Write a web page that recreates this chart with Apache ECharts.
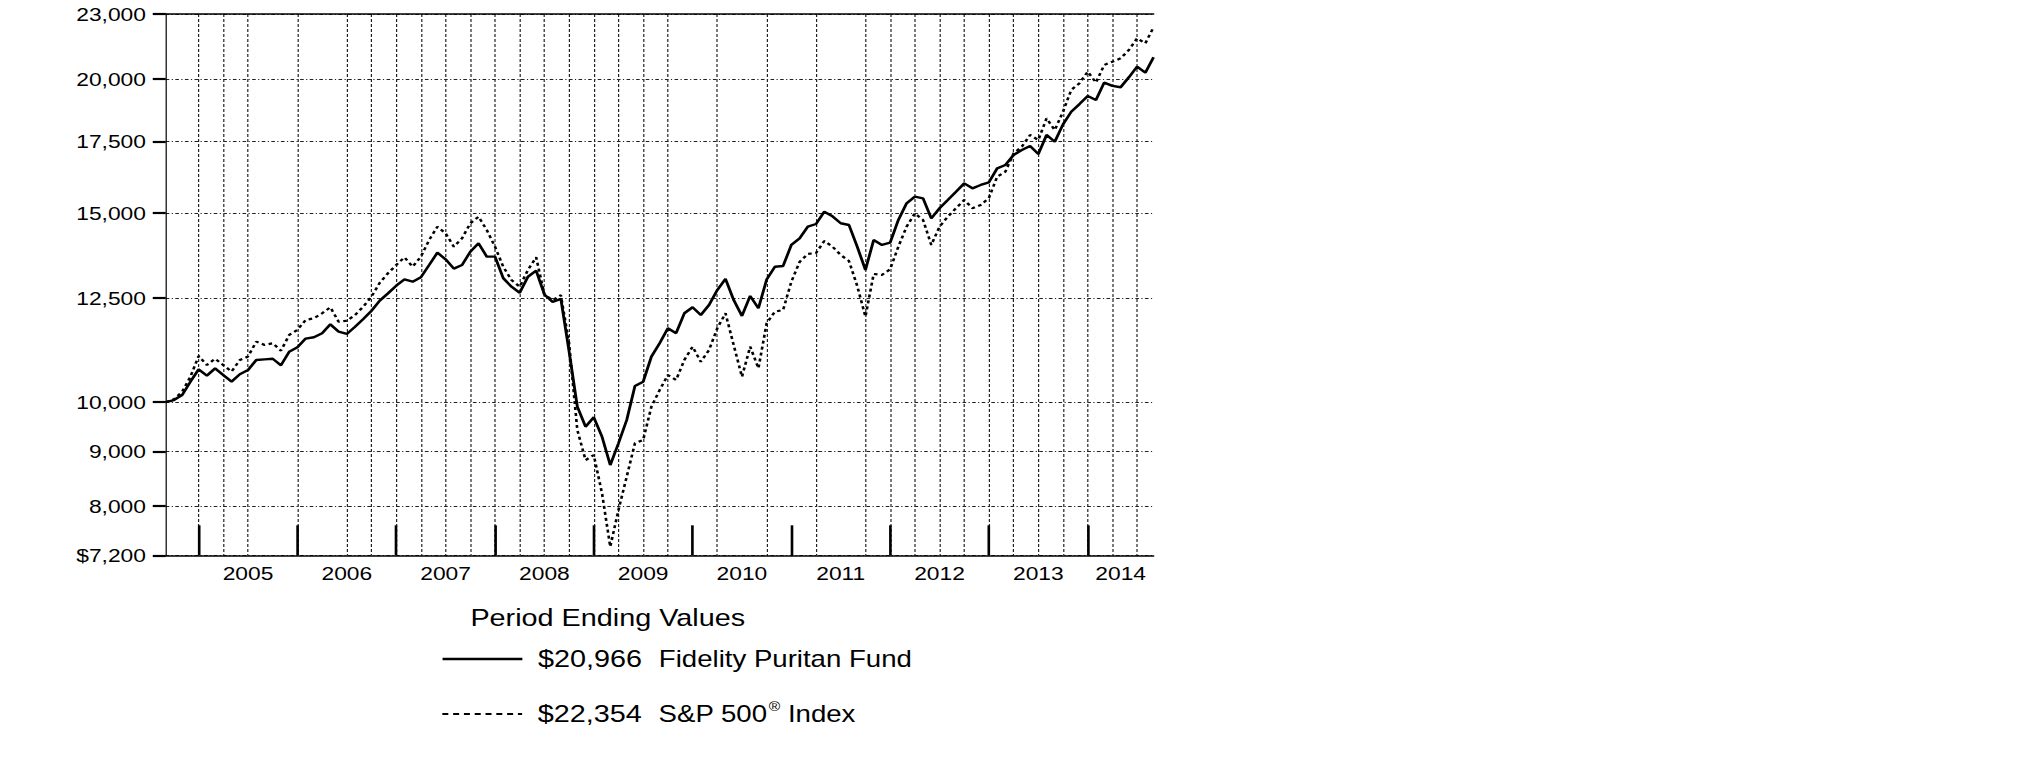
<!DOCTYPE html>
<html>
<head>
<meta charset="utf-8">
<script src="https://cdn.jsdelivr.net/npm/echarts@6/dist/echarts.min.js"></script>
<style>
  html, body { margin: 0; padding: 0; background: #ffffff; overflow: hidden; }
  #wrap { width: 2025px; height: 761px; overflow: hidden; }
  #chart { width: 1687.5px; height: 761px; transform: scaleX(1.2); transform-origin: 0 0; }
</style>
</head>
<body>
<div id="wrap"><div id="chart"></div></div>
<script>
// ---------------- data ----------------
const startYear = 2004;
const startMonth = 8;          // Aug 2004 = $10,000 start
const monthCount = 121;        // monthly month-end points through Aug 2014

const months = [];
for (let i = 0; i < monthCount; i++) {
  const m0 = startMonth - 1 + i;
  const y = startYear + Math.floor(m0 / 12);
  const m = (m0 % 12) + 1;
  months.push(y + '-' + (m < 10 ? '0' + m : '' + m));
}

const fundName = 'Fidelity Puritan Fund';
const indexName = 'S&P 500\u00AE Index';

const fundValues = [
  10000, 10046, 10155, 10450, 10730, 10585, 10752, 10600, 10450, 10617,
  10715, 10947, 10962, 10977, 10824, 11145, 11250, 11462, 11494, 11595,
  11818, 11635, 11576, 11758, 11955, 12169, 12435, 12631, 12840, 13018,
  12952, 13075, 13422, 13783, 13588, 13318, 13422, 13811, 14062, 13666,
  13666, 13050, 12813, 12647, 13089, 13260, 12600, 12400, 12480, 11150,
  9904, 9488, 9681, 9287, 8739, 9157, 9625, 10354, 10450, 11028,
  11349, 11718, 11595, 12102, 12259, 12058, 12318, 12720, 13030, 12450,
  12033, 12560, 12233, 13010, 13373, 13395, 14013, 14215, 14573, 14657,
  15050, 14900, 14680, 14626, 13961, 13281, 14163, 14013, 14081, 14785,
  15322, 15542, 15488, 14837, 15162, 15431, 15707, 15992, 15823, 15937,
  16029, 16516, 16634, 16994, 17179, 17326, 17029, 17742, 17486, 18150,
  18650, 18958, 19289, 19125, 19852, 19711, 19656, 20080, 20543, 20280,
  20966
];

const indexValues = [
  10000, 10062, 10228, 10561, 11041, 10830, 10977, 10829, 10680, 10947,
  11028, 11388, 11307, 11349, 11169, 11552, 11678, 11930, 11975, 12102,
  12259, 11885, 11910, 12058, 12275, 12543, 12920, 13187, 13422, 13646,
  13373, 13666, 14163, 14573, 14366, 13961, 14215, 14680, 14888, 14469,
  13961, 13373, 12997, 12813, 13281, 13646, 12600, 12450, 12580, 11350,
  9421, 8832, 8928, 8225, 7334, 7935, 8523, 9157, 9222, 9904,
  10264, 10600, 10488, 10947, 11265, 10907, 11185, 11718, 12102, 11300,
  10561, 11265, 10755, 11845, 12144, 12188, 12950, 13510, 13745, 13772,
  14133, 13961, 13713, 13538, 12834, 12016, 13166, 13139, 13300, 13961,
  14573, 14997, 14785, 14013, 14573, 14888, 15162, 15431, 15162, 15266,
  15500, 16222, 16398, 17057, 17302, 17742, 17551, 18384, 17930, 18651,
  19543, 19825, 20324, 19852, 20616, 20764, 20913, 21292, 21832, 21597,
  22354
];

const yTicks = [7200, 8000, 9000, 10000, 12500, 15000, 17500, 20000, 23000];

// quarter-end gridlines that the original leaves out
const hiddenGridMonths = ['2004-09', '2005-09', '2006-03', '2009-12', '2010-06', '2010-12', '2011-06'];

// ---------------- derived helpers ----------------
const fmt = v => Math.round(v).toLocaleString('en-US');

// year boundary ticks at each December month-end
const yearTickIdx = [];
months.forEach((m, i) => { if (m.slice(5) === '12') yearTickIdx.push(i); });
const yearTickSet = new Set(yearTickIdx);

// year label in the middle of each year segment
const labelIdxSet = new Set();
for (let t = 0; t < yearTickIdx.length; t++) {
  const a = yearTickIdx[t];
  const b = t + 1 < yearTickIdx.length ? yearTickIdx[t + 1] : monthCount - 1;
  labelIdxSet.add(Math.round((a + b) / 2));
}

const gridIdxSet = new Set();
months.forEach((m, i) => {
  const mm = parseInt(m.slice(5), 10);
  if (mm % 3 === 0 && hiddenGridMonths.indexOf(m) < 0) gridIdxSet.add(i);
});

const endValue = { [fundName]: fundValues[fundValues.length - 1], [indexName]: indexValues[indexValues.length - 1] };

const FONT = '"Liberation Sans", Arial, Helvetica, sans-serif';

const legendRich = {
  v: { fontSize: 24, fontFamily: FONT, color: '#000', padding: [0, 14, 0, 8], lineHeight: 28 },
  n: { fontSize: 23, fontFamily: FONT, color: '#000', lineHeight: 28 },
  sup: { fontSize: 13, fontFamily: FONT, color: '#000', lineHeight: 28, verticalAlign: 'top', padding: [0, 0, 10, 1] }
};

function legendFormatter(name) {
  const v = '{v|$' + fmt(endValue[name]) + '}';
  if (name === indexName) return v + '{n|S&P 500}{sup|\u00AE}{n| Index}';
  return v + '{n|' + name + '}';
}

// ---------------- chart ----------------
const chart = echarts.init(document.getElementById('chart'), null, { renderer: 'svg' });

const option = {
  animation: false,
  backgroundColor: '#ffffff',
  title: {
    text: 'Period Ending Values',
    left: 392,
    top: 606,
    padding: 0,
    textStyle: { fontSize: 24, fontWeight: 'normal', fontFamily: FONT, color: '#000' }
  },
  legend: [
    {
      data: [fundName],
      left: 367.5, top: 647, padding: 0,
      orient: 'vertical',
      itemWidth: 66.5, itemHeight: 28,
      selectedMode: false,
      formatter: legendFormatter,
      itemStyle: { opacity: 0 },
      lineStyle: { color: '#000', width: 2.6, type: 'solid' },
      textStyle: { rich: legendRich }
    },
    {
      data: [indexName],
      left: 367.5, top: 700, padding: 0,
      orient: 'vertical',
      itemWidth: 66.5, itemHeight: 28,
      selectedMode: false,
      formatter: legendFormatter,
      itemStyle: { opacity: 0 },
      lineStyle: { color: '#000', width: 2.2, type: [5, 4] },
      textStyle: { rich: legendRich }
    }
  ],
  grid: {
    left: 138.1,
    top: 14,
    width: 823.2,
    height: 541.3,
    containLabel: false,
    outerBoundsMode: 'none'
  },
  xAxis: [
    {
      type: 'category',
      data: months,
      boundaryGap: false,
      position: 'bottom',
      axisLine: { show: true, onZero: false, lineStyle: { color: '#000', width: 1.5 } },
      axisTick: {
        show: true, inside: true, length: 30,
        interval: (i) => yearTickSet.has(i),
        lineStyle: { color: '#000', width: 2.2 }
      },
      axisLabel: {
        show: true,
        interval: (i) => labelIdxSet.has(i),
        formatter: (v) => v.slice(0, 4),
        margin: 8,
        fontSize: 19, fontFamily: FONT, color: '#000'
      },
      splitLine: {
        show: true,
        interval: (i) => gridIdxSet.has(i),
        lineStyle: { color: '#222', width: 1, type: [3, 2] }
      }
    },
    {
      type: 'category',
      data: months,
      boundaryGap: false,
      position: 'top',
      axisLine: { show: true, onZero: false, lineStyle: { color: '#000', width: 1.5 } },
      axisTick: { show: false },
      axisLabel: { show: false },
      splitLine: { show: false }
    }
  ],
  yAxis: {
    type: 'log',
    logBase: 10,
    min: 7200,
    max: 23000,
    axisLine: { show: true, lineStyle: { color: '#000', width: 1 } },
    axisTick: {
      show: true, inside: false, length: 10.8,
      customValues: yTicks,
      lineStyle: { color: '#000', width: 2.2 }
    },
    axisLabel: {
      customValues: yTicks,
      formatter: (v) => (Math.round(v) === yTicks[0] ? '$' : '') + fmt(v),
      margin: 16.5,
      fontSize: 19, fontFamily: FONT, color: '#000'
    },
    splitLine: {
      show: true,
      lineStyle: { color: '#222', width: 1, type: [3, 2, 1, 2] }
    }
  },
  series: [
    {
      name: fundName,
      type: 'line',
      data: fundValues,
      symbol: 'none',
      z: 4,
      lineStyle: { color: '#000', width: 2.4 },
      itemStyle: { color: '#000' }
    },
    {
      name: indexName,
      type: 'line',
      data: indexValues,
      symbol: 'none',
      z: 3,
      lineStyle: { color: '#000', width: 2.2, type: [3, 3] },
      itemStyle: { color: '#000' }
    }
  ]
};

chart.setOption(option);
</script>
</body>
</html>
